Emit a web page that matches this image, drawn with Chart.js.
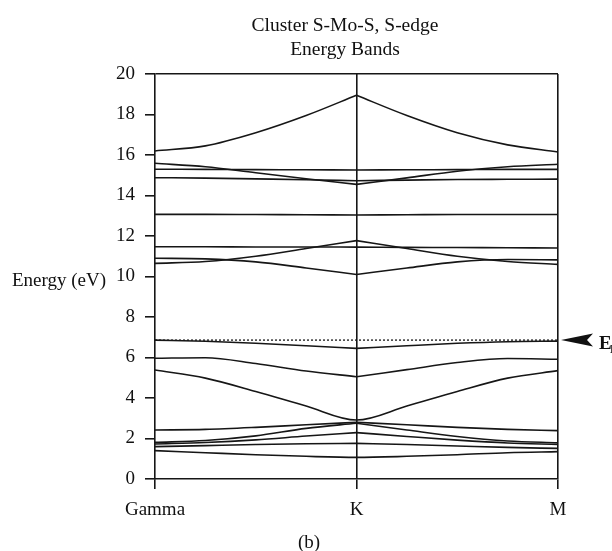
<!DOCTYPE html>
<html>
<head>
<meta charset="utf-8">
<script src="https://cdn.jsdelivr.net/npm/chart.js@4.4.1/dist/chart.umd.min.js"></script>
<style>
  html, body { margin: 0; padding: 0; background: #fff; }
</style>
</head>
<body>
<canvas id="bands" width="612" height="551"></canvas>
<script>
// k-path positions: Gamma = 0, K = 1, M = 2
const kPath = [0, 0.25, 0.5, 0.75, 1, 1.25, 1.5, 1.75, 2];
const kLabels = ['Gamma', 'K', 'M'];
const energyMin = 0;
const energyMax = 20;
const energyStep = 2;
const fermiLevel = 6.86;

// band energies (eV) at each kPath point
const bandTop = [16.2, 16.45, 17.1, 17.95, 18.95, 17.95, 17.1, 16.5, 16.15];
const band15a = [15.59, 15.42, 15.12, 14.83, 14.55, 14.87, 15.2, 15.42, 15.54];
const band15b = [15.3, 15.29, 15.28, 15.27, 15.26, 15.27, 15.28, 15.29, 15.29];
const band14 = [14.88, 14.86, 14.82, 14.78, 14.73, 14.76, 14.79, 14.8, 14.81];
const band13 = [13.07, 13.07, 13.06, 13.05, 13.04, 13.05, 13.06, 13.06, 13.06];
const band11a = [11.47, 11.47, 11.46, 11.46, 11.45, 11.44, 11.43, 11.42, 11.41];
const band11b = [10.65, 10.74, 11.0, 11.38, 11.77, 11.38, 11.0, 10.74, 10.6];
const band10 = [10.9, 10.87, 10.72, 10.42, 10.1, 10.42, 10.72, 10.84, 10.82];
const band7 = [6.86, 6.8, 6.7, 6.58, 6.45, 6.58, 6.7, 6.78, 6.81];
const band6 = [5.96, 5.99, 5.7, 5.33, 5.05, 5.4, 5.75, 5.95, 5.91];
const band5 = [5.38, 4.98, 4.32, 3.6, 2.91, 3.6, 4.32, 4.98, 5.35];
const band2a = [2.42, 2.45, 2.55, 2.68, 2.8, 2.68, 2.55, 2.45, 2.39];
const band2b = [1.81, 1.9, 2.13, 2.5, 2.75, 2.42, 2.1, 1.88, 1.79];
const band2c = [1.73, 1.8, 1.93, 2.12, 2.29, 2.1, 1.92, 1.78, 1.71];
const band2d = [1.6, 1.65, 1.7, 1.74, 1.76, 1.7, 1.63, 1.56, 1.51];
const band1 = [1.4, 1.3, 1.2, 1.12, 1.07, 1.12, 1.2, 1.3, 1.35];

const allBands = [bandTop, band15a, band15b, band14, band13, band11a, band11b, band10,
  band7, band6, band5, band2a, band2b, band2c, band2d, band1];
// these bands have a smooth minimum at K instead of a kink
const roundedAtK = [band5, band1];

const lineColor = '#161616';

function toPoints(values, from, to) {
  const pts = [];
  for (let i = from; i <= to; i++) {
    pts.push({ x: kPath[i], y: values[i] });
  }
  return pts;
}

const datasets = [];
allBands.forEach((values) => {
  const pieces = roundedAtK.includes(values)
    ? [toPoints(values, 0, 8)]
    : [toPoints(values, 0, 4), toPoints(values, 4, 8)];
  pieces.forEach((pts) => {
    datasets.push({
      data: pts,
      borderColor: lineColor,
      borderWidth: 1.6,
      pointRadius: 0,
      fill: false,
      cubicInterpolationMode: 'monotone',
    });
  });
});

datasets.push({
  data: [{ x: 0, y: fermiLevel }, { x: 2, y: fermiLevel }],
  borderColor: lineColor,
  borderWidth: 1.3,
  borderDash: [2, 2],
  pointRadius: 0,
  fill: false,
});

const serif = '"Liberation Serif", "Times New Roman", serif';

const extras = {
  id: 'extras',
  afterDraw(chart) {
    const ctx = chart.ctx;
    const y = chart.scales.y;
    ctx.save();
    ctx.fillStyle = '#111';
    ctx.textAlign = 'center';
    ctx.textBaseline = 'alphabetic';
    ctx.font = '19.5px ' + serif;
    ctx.fillText('Cluster S-Mo-S, S-edge', 345, 31);
    ctx.fillText('Energy Bands', 345, 55);

    ctx.font = '19px ' + serif;
    ctx.textAlign = 'left';
    ctx.fillText('Energy (eV)', 12, 286);

    ctx.textAlign = 'center';
    ctx.fillText('(b)', 309, 548);

    // Fermi level marker
    const fy = y.getPixelForValue(fermiLevel);
    ctx.beginPath();
    ctx.moveTo(561, fy);
    ctx.lineTo(593, fy - 6.5);
    ctx.lineTo(587, fy);
    ctx.lineTo(593, fy + 6.5);
    ctx.closePath();
    ctx.fill();

    ctx.textAlign = 'left';
    ctx.font = 'bold 19px ' + serif;
    ctx.fillText('E', 599, fy + 8.5);
    ctx.font = 'bold 12px ' + serif;
    ctx.fillText('F', 610, fy + 13);
    ctx.restore();
  },
};

new Chart(document.getElementById('bands'), {
  type: 'line',
  data: { datasets: datasets },
  plugins: [extras],
  options: {
    responsive: false,
    animation: false,
    layout: {
      padding: { left: 0, right: 54, top: 74, bottom: 0 },
    },
    plugins: {
      legend: { display: false },
      title: { display: false },
      tooltip: { enabled: false },
    },
    scales: {
      x: {
        type: 'linear',
        min: 0,
        max: 2,
        afterFit(scale) {
          scale.height = 72;
        },
        ticks: {
          stepSize: 1,
          padding: 10,
          color: '#111',
          font: { family: serif, size: 19 },
          callback: (value) => kLabels[value],
        },
        grid: {
          color: (ctx) => (ctx.tick && ctx.tick.value > 0 ? lineColor : 'rgba(0,0,0,0)'),
          tickColor: lineColor,
          tickLength: 10,
          lineWidth: 1.6,
        },
        border: { display: true, color: lineColor, width: 1.6 },
      },
      y: {
        min: energyMin,
        max: energyMax,
        afterFit(scale) {
          scale.width = 155;
        },
        ticks: {
          stepSize: energyStep,
          padding: 10,
          color: '#111',
          font: { family: serif, size: 19 },
        },
        grid: {
          color: (ctx) => (ctx.tick && ctx.tick.value === energyMax ? lineColor : 'rgba(0,0,0,0)'),
          tickColor: lineColor,
          tickLength: 10,
          lineWidth: 1.6,
        },
        border: { display: true, color: lineColor, width: 1.6 },
      },
    },
  },
});
</script>
</body>
</html>
